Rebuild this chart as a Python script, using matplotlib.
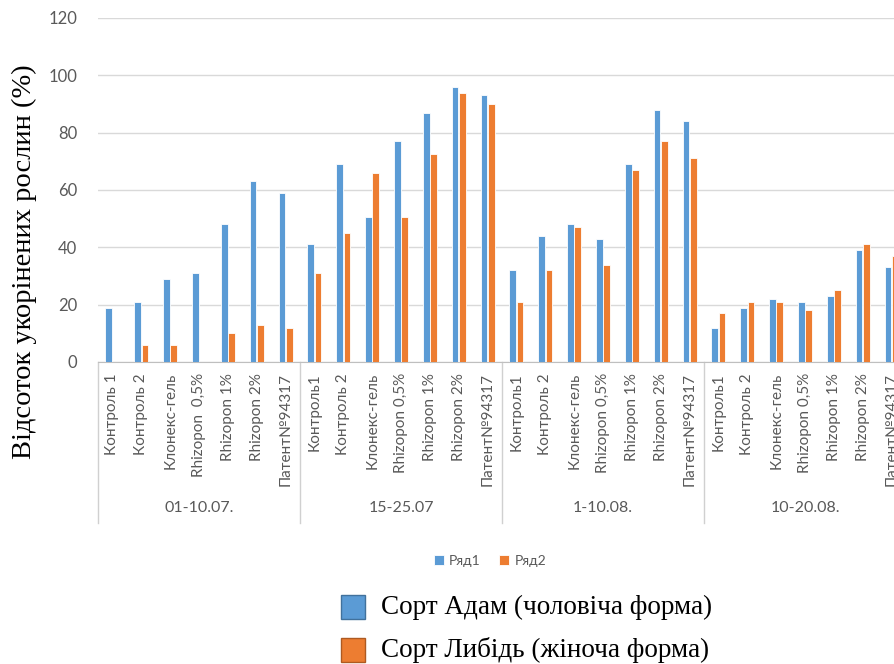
import matplotlib
matplotlib.use("Agg")
import matplotlib.pyplot as plt
import numpy as np
from matplotlib.patches import Rectangle
from matplotlib.lines import Line2D

groups = ["01-10.07.", "15-25.07", "1-10.08.", "10-20.08."]
cats_per_group = [
    ["Контроль 1", "Контроль 2", "Клонекс-гель", "Rhizopon  0,5%", "Rhizopon 1%", "Rhizopon 2%", "Патент№94317"],
    ["Контроль1", "Контроль 2", "Клонекс-гель", "Rhizopon 0,5%", "Rhizopon 1%", "Rhizopon 2%", "Патент№94317"],
    ["Контроль1", "Контроль 2", "Клонекс-гель", "Rhizopon 0,5%", "Rhizopon 1%", "Rhizopon 2%", "Патент№94317"],
    ["Контроль1", "Контроль 2", "Клонекс-гель", "Rhizopon 0,5%", "Rhizopon 1%", "Rhizopon 2%", "Патент№94317"],
]
series1 = [19, 21, 29, 31, 48, 63, 59,
           41, 69, 50.5, 77, 87, 96, 93,
           32, 44, 48, 43, 69, 88, 84,
           12, 19, 22, 21, 23, 39, 33]
series2 = [0, 6, 6, 0, 10, 13, 12,
           31, 45, 66, 50.5, 72.5, 94, 90,
           21, 32, 47, 34, 67, 77, 71,
           17, 21, 21, 18, 25, 41, 37]
series_names = ["Ряд1", "Ряд2"]
legend_texts = ["Сорт Адам (чоловіча форма)", "Сорт Либідь (жіноча форма)"]
ylabel = "Відсоток укорінених рослин (%)"
yticks = [0, 20, 40, 60, 80, 100, 120]

blue = "#5B9BD5"
orange = "#ED7D31"
gray = "#595959"

W, H = 894, 664
fig = plt.figure(figsize=(W / 100, H / 100), dpi=100)
ax_left, ax_right = 98, 906
ax_top, ax_bot = 18, 362
ax = fig.add_axes([ax_left / W, 1 - ax_bot / H, (ax_right - ax_left) / W, (ax_bot - ax_top) / H])

labels = [c for g in cats_per_group for c in g]
x = np.arange(len(labels))
bw = 0.235
b1 = ax.bar(x - 0.125, series1, bw, color=blue, edgecolor="white", linewidth=0.6, zorder=3)
b2 = ax.bar(x + 0.125, series2, bw, color=orange, edgecolor="white", linewidth=0.6, zorder=3)

ax.set_xlim(-0.5, len(labels) - 0.5)
ax.set_ylim(0, 120)
ax.set_yticks(yticks)
ax.yaxis.grid(True, color="#d9d9d9", linewidth=1.0, zorder=0)
ax.set_axisbelow(True)
for s in ["top", "right", "left"]:
    ax.spines[s].set_visible(False)
ax.spines["bottom"].set_color("#bfbfbf")
ax.tick_params(axis="y", length=0, pad=15, labelsize=12, labelcolor=gray)
ax.set_xticks(x)
ax.set_xticklabels(labels, rotation=90, fontsize=11, color=gray, family="Lato")
ax.tick_params(axis="x", length=0, pad=8)
for lab in ax.get_yticklabels():
    lab.set_family("Lato")

axh = ax_bot - ax_top
sep_bottom = -(523 - ax_bot) / axh
trans = ax.get_xaxis_transform()
n = 0
for gi, g in enumerate(cats_per_group):
    start = n - 0.5
    ax.add_line(Line2D([start, start], [0, sep_bottom], transform=trans, color="#d0d0d0",
                       linewidth=1.0, clip_on=False))
    ax.text(n + (len(g) - 1) / 2, -(508 - ax_bot) / axh, groups[gi], transform=trans,
            ha="center", va="center", fontsize=11.5, color=gray, family="Lato")
    n += len(g)

fig.text(24 / W, 1 - 262 / H, ylabel, rotation=90, ha="center", va="center",
         fontsize=20.5, family="Liberation Serif", color="black")

fig.legend([b1, b2], series_names, loc="center", bbox_to_anchor=(490 / W, 1 - 561 / H),
           ncol=2, frameon=False, handlelength=0.75, handleheight=0.75,
           handletextpad=0.35, columnspacing=1.3, labelcolor=gray,
           prop={"family": "Lato", "size": 10})

cols = [blue, orange]
edges = ["#41719C", "#AE5A21"]
rows_y = [607, 650]
for i in range(2):
    yc = rows_y[i]
    fig.patches.append(Rectangle((341 / W, 1 - (yc + 12) / H), 24 / W, 24 / H,
                                 transform=fig.transFigure, facecolor=cols[i], edgecolor=edges[i],
                                 linewidth=1.0))
    fig.text(381 / W, 1 - yc / H, legend_texts[i], ha="left", va="center",
             fontsize=19.5, family="Liberation Serif", color="black")

fig.savefig("out.png", dpi=100)
